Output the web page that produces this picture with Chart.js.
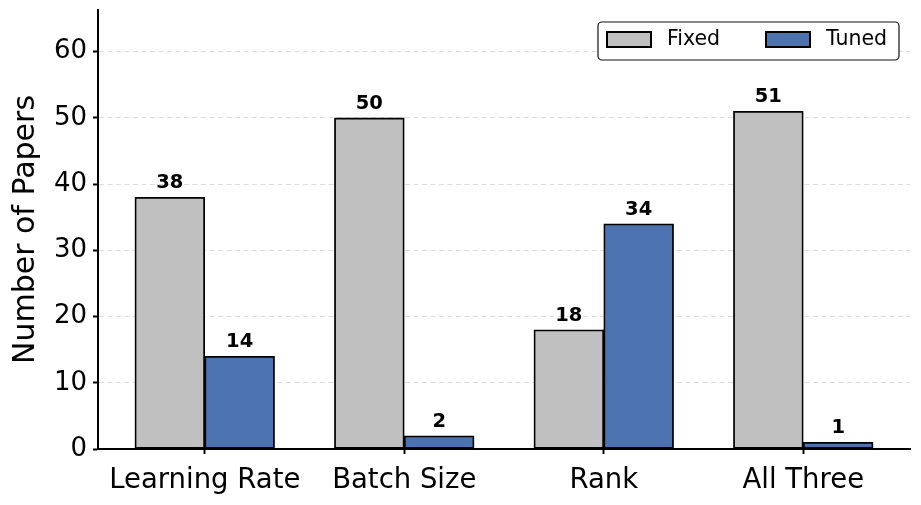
<!DOCTYPE html>
<html lang="en">
<head>
  <meta charset="UTF-8">
  <title>Number of Papers</title>
  <script src="https://cdn.jsdelivr.net/npm/chart.js"></script>
  <style>
    html, body { margin: 0; padding: 0; background: #fff; }
    .wrap { width: 921px; height: 505px; position: relative; }
  </style>
</head>
<body>
  <div class="wrap"><canvas id="papersChart"></canvas></div>

  <script>
    // data
    const categories = ['Learning Rate', 'Batch Size', 'Rank', 'All Three'];
    const fixedValues = [38, 50, 18, 51];
    const tunedValues = [14, 2, 34, 1];
    const yTicks = [0, 10, 20, 30, 40, 50, 60];
    const seriesNames = ['Fixed', 'Tuned'];
    const seriesColors = ['#c0c0c0', '#4c72b0'];

    const FONT = "'DejaVu Sans', sans-serif";
    const BAR_W = 0.35; // in category units, like matplotlib's width

    // bars sit either side of the category position
    function toPoints(values, shift) {
      return values.map((v, i) => ({ x: i + shift, y: v }));
    }

    // bold numbers above each bar
    const valueLabels = {
      id: 'valueLabels',
      afterDatasetsDraw(chart) {
        const ctx = chart.ctx;
        ctx.save();
        ctx.font = 'bold 19.5px ' + FONT;
        ctx.fillStyle = '#000';
        ctx.textAlign = 'center';
        ctx.textBaseline = 'alphabetic';
        chart.data.datasets.forEach((ds, i) => {
          chart.getDatasetMeta(i).data.forEach((bar, j) => {
            ctx.fillText(String(ds.data[j].y), bar.x, bar.y - 9);
          });
        });
        ctx.restore();
      }
    };

    // framed legend in the top right corner
    const boxLegend = {
      id: 'boxLegend',
      afterDraw(chart) {
        const ctx = chart.ctx;
        const area = chart.chartArea;
        const x0 = area.right - 312, y0 = area.top + 12, w = 301, h = 38;
        ctx.save();
        ctx.beginPath();
        ctx.roundRect(x0, y0, w, h, 4);
        ctx.fillStyle = 'rgba(255,255,255,0.9)';
        ctx.fill();
        ctx.lineWidth = 1.2;
        ctx.strokeStyle = '#111';
        ctx.stroke();
        ctx.font = '20.5px ' + FONT;
        ctx.textBaseline = 'middle';
        ctx.textAlign = 'left';
        const starts = [x0 + 9, x0 + 168];
        chart.data.datasets.forEach((ds, i) => {
          const px = starts[i];
          ctx.fillStyle = ds.backgroundColor;
          ctx.fillRect(px, y0 + 10, 44, 15);
          ctx.lineWidth = 2;
          ctx.strokeStyle = '#000';
          ctx.strokeRect(px, y0 + 10, 44, 15);
          ctx.fillStyle = '#000';
          ctx.fillText(ds.label, px + 60, y0 + 18);
        });
        ctx.restore();
      }
    };

    const span = categories.length - 1 + 2 * BAR_W;

    new Chart(document.getElementById('papersChart'), {
      type: 'bar',
      data: {
        datasets: [
          { label: seriesNames[0], data: toPoints(fixedValues, -BAR_W / 2), backgroundColor: seriesColors[0] },
          { label: seriesNames[1], data: toPoints(tunedValues, BAR_W / 2), backgroundColor: seriesColors[1] }
        ]
      },
      options: {
        responsive: true,
        maintainAspectRatio: false,
        animation: false,
        layout: { padding: { left: 0, right: 11, top: 10, bottom: 0 } },
        datasets: {
          bar: {
            grouped: false,
            borderColor: '#000',
            borderWidth: 1.8,
            borderSkipped: false,
            // the gap between neighbouring bars is exactly BAR_W, so full width fills it
            categoryPercentage: 1.0,
            barPercentage: 1.0
          }
        },
        plugins: {
          legend: { display: false },
          tooltip: { enabled: false }
        },
        scales: {
          x: {
            type: 'linear',
            offset: false,
            min: -BAR_W - 0.05 * span,
            max: categories.length - 1 + BAR_W + 0.05 * span,
            afterFit(scale) { scale.height = 56; },
            afterBuildTicks(scale) { scale.ticks = categories.map((c, i) => ({ value: i })); },
            grid: {
              display: true,
              drawOnChartArea: false,
              offset: false,
              tickLength: 5,
              tickWidth: 2,
              tickColor: '#000'
            },
            border: { display: true, color: '#000', width: 2 },
            ticks: {
              color: '#000',
              padding: 10,
              maxRotation: 0,
              autoSkip: false,
              callback: (v) => categories[v],
              font: { family: FONT, size: 27.5 }
            }
          },
          y: {
            min: 0,
            max: 66.3,
            afterFit(scale) {
              scale.width = 98;
              scale.paddingTop = 0;
              scale.paddingBottom = 0;
            },
            afterBuildTicks(scale) { scale.ticks = yTicks.map(v => ({ value: v })); },
            grid: {
              color: '#dcdcdc',
              lineWidth: 1,
              tickLength: 5,
              tickWidth: 2,
              tickColor: '#000',
              tickBorderDash: []
            },
            border: { display: true, color: '#000', width: 2, dash: [5, 3.5] },
            ticks: {
              color: '#000',
              padding: 6,
              font: { family: FONT, size: 26 }
            },
            title: {
              display: true,
              text: 'Number of Papers',
              color: '#000',
              padding: { top: 8, bottom: 0 },
              font: { family: FONT, size: 30 }
            }
          }
        }
      },
      plugins: [valueLabels, boxLegend]
    });
  </script>
</body>
</html>
